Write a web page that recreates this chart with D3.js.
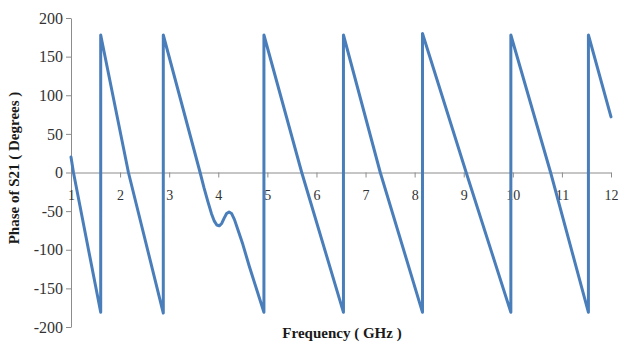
<!DOCTYPE html>
<html>
<head>
<meta charset="utf-8">
<script src="https://cdn.jsdelivr.net/npm/d3@7"></script>
<style>
  body { margin: 0; background: #ffffff; }
  svg { display: block; }
</style>
</head>
<body>
<svg id="chart" width="620" height="347"></svg>
<script>
// Transmission phase of S21 versus frequency (wrapped to ±180°)
const freqGHz = [
  1.00, 1.05, 1.605,
  1.605, 2.17, 2.88,
  2.88, 3.63, 3.71, 3.79, 3.86, 3.92, 3.97, 4.02, 4.07, 4.12, 4.17, 4.22,
  4.27, 4.33, 4.40, 4.50, 4.63, 4.93,
  4.93, 5.70, 6.55,
  6.55, 7.30, 8.16,
  8.16, 9.05, 9.96,
  9.96, 10.77, 11.54,
  11.54, 12.00
];
const phaseDeg = [
  20, 0, -181,
  178, 0, -182,
  178, 0, -20, -38, -53, -63, -68, -69, -66, -59, -53, -51,
  -53, -61, -74, -93, -121, -181,
  178, 0, -181,
  178, 0, -181,
  180, 0, -181,
  178, 0, -181,
  178, 72
];
const xTicks = [1, 2, 3, 4, 5, 6, 7, 8, 9, 10, 11, 12];
const yTicks = [-200, -150, -100, -50, 0, 50, 100, 150, 200];

const xTitle = "Frequency\u00a0( GHz )";
const yTitle = "Phase of S21 ( Degrees )";

const svg = d3.select("#chart");
const serif = "'Liberation Serif', 'Times New Roman', Times, serif";
const axisGrey = "#8c8c8c";
const lineBlue = "#4a7ebb";

svg.append("rect").attr("width", 620).attr("height", 347).attr("fill", "#ffffff");

const x = d3.scaleLinear().domain([1, 12]).range([71, 611]);
const y = d3.scaleLinear().domain([-200, 200]).range([327, 18]);

// Plain hyphen for negative numbers
const plain = d => String(d);

// Vertical axis on the left
const yAxis = svg.append("g")
  .attr("transform", `translate(${x(1)},0)`)
  .call(d3.axisLeft(y).tickValues(yTicks).tickFormat(plain)
    .tickSizeInner(5).tickSizeOuter(0).tickPadding(3));

// Horizontal axis through zero
const xAxis = svg.append("g")
  .attr("transform", `translate(0,${y(0)})`)
  .call(d3.axisBottom(x).tickValues(xTicks).tickFormat(plain)
    .tickSizeInner(5).tickSizeOuter(0).tickPadding(13));

[yAxis, xAxis].forEach(g => {
  g.select(".domain").attr("stroke", axisGrey).attr("stroke-width", 1);
  g.selectAll(".tick line").attr("stroke", axisGrey).attr("stroke-width", 1);
  g.selectAll(".tick text")
    .attr("fill", "#333333")
    .style("font-family", serif);
});
yAxis.selectAll(".tick text").style("font-size", "16px");
xAxis.selectAll(".tick text").style("font-size", "14px");

// Phase trace
const pts = freqGHz.map((f, i) => [f, phaseDeg[i]]);
svg.append("path")
  .datum(pts)
  .attr("fill", "none")
  .attr("stroke", lineBlue)
  .attr("stroke-width", 3)
  .attr("stroke-linejoin", "round")
  .attr("stroke-linecap", "round")
  .attr("d", d3.line().x(d => x(d[0])).y(d => y(d[1])));

// Axis titles
svg.append("text")
  .attr("x", 342).attr("y", 338)
  .attr("text-anchor", "middle")
  .style("font-family", serif)
  .style("font-size", "15px")
  .style("font-weight", "bold")
  .attr("fill", "#1a1a1a")
  .text(xTitle);

svg.append("text")
  .attr("transform", "translate(19,168) rotate(-90)")
  .attr("text-anchor", "middle")
  .style("font-family", serif)
  .style("font-size", "15px")
  .style("font-weight", "bold")
  .attr("fill", "#1a1a1a")
  .text(yTitle);
</script>
</body>
</html>
